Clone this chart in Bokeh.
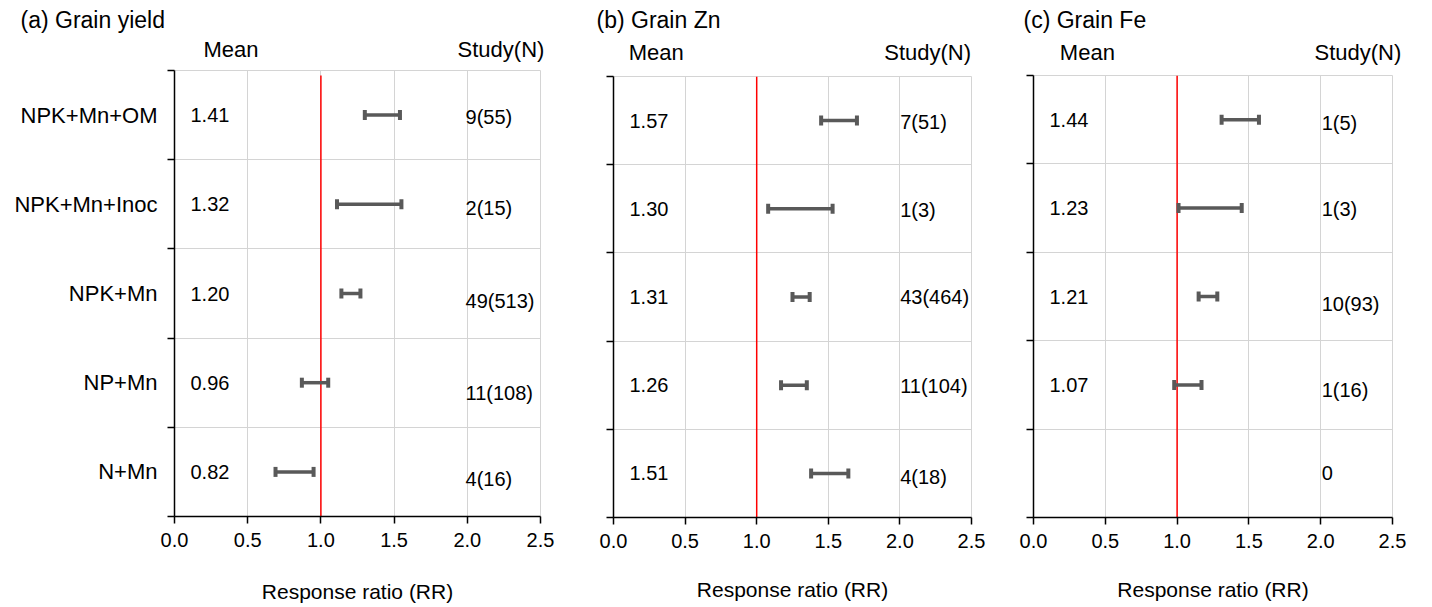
from bokeh.plotting import figure
from bokeh.models import FixedTicker, NumeralTickFormatter, LinearAxis
from bokeh.layouts import row
from bokeh.embed import file_html
from bokeh.resources import INLINE
from bokeh.core.properties import value

FONT = "Liberation Sans"
GRID = "#d4d4d4"
BAR = "#595959"

# ---------------- data (rows listed top to bottom) ----------------
categories = ["NPK+Mn+OM", "NPK+Mn+Inoc", "NPK+Mn", "NP+Mn", "N+Mn"]
x_ticks = [0.0, 0.5, 1.0, 1.5, 2.0, 2.5]

yield_mean = [1.41, 1.32, 1.20, 0.96, 0.82]
yield_lo = [1.30, 1.11, 1.14, 0.87, 0.69]
yield_hi = [1.54, 1.55, 1.27, 1.05, 0.95]
yield_study = ["9(55)", "2(15)", "49(513)", "11(108)", "4(16)"]

zn_mean = [1.57, 1.30, 1.31, 1.26, 1.51]
zn_lo = [1.45, 1.08, 1.25, 1.17, 1.38]
zn_hi = [1.70, 1.53, 1.37, 1.35, 1.64]
zn_study = ["7(51)", "1(3)", "43(464)", "11(104)", "4(18)"]

fe_mean = [1.44, 1.23, 1.21, 1.07, None]
fe_lo = [1.31, 1.01, 1.15, 0.98, None]
fe_hi = [1.57, 1.45, 1.28, 1.17, None]
fe_study = ["1(5)", "1(3)", "10(93)", "1(16)", "0"]

HEIGHT = 606


def panel(title, means, lo, hi, study, study_dy, *, width, border, title_offset,
          title_standoff, hdr_x, hdr_standoff, study_x, xlabel_standoff,
          ref_top, show_cats):
    n = len(means)
    yc = [n - 0.5 - i for i in range(n)]
    ppu = (HEIGHT - border[2] - border[3]) / n
    p = figure(width=width, height=HEIGHT, x_range=(0, 2.5), y_range=(0, n),
               output_backend="svg", toolbar_location=None,
               min_border_left=border[0], min_border_right=border[1],
               min_border_top=border[2], min_border_bottom=border[3])
    if "frame_align" in p.properties():
        p.frame_align = False
    p.outline_line_color = GRID
    p.outline_line_width = 1
    p.background_fill_color = "white"
    p.border_fill_color = "white"

    p.xgrid.ticker = FixedTicker(ticks=x_ticks[1:-1])
    p.ygrid.ticker = FixedTicker(ticks=list(range(1, n)))
    p.grid.grid_line_color = GRID
    p.grid.grid_line_width = 1

    # x axis (below)
    xa = p.below[0]
    xa.ticker = FixedTicker(ticks=x_ticks)
    xa.formatter = NumeralTickFormatter(format="0.0")
    xa.axis_line_color = "black"
    xa.axis_line_width = 1.5
    xa.major_tick_line_color = "black"
    xa.major_tick_line_width = 1.5
    xa.major_tick_out = 7
    xa.major_tick_in = 0
    xa.minor_tick_line_color = None
    xa.major_label_text_font = FONT
    xa.major_label_text_font_size = "20px"
    xa.major_label_text_color = "black"
    xa.major_label_standoff = 9
    xa.axis_label = "Response ratio (RR)"
    xa.axis_label_text_font = FONT
    xa.axis_label_text_font_size = "21px"
    xa.axis_label_text_font_style = "normal"
    xa.axis_label_text_color = "black"
    xa.axis_label_standoff = xlabel_standoff

    # y axis: labels at row centres, ticks at row boundaries
    ya = p.left[0]
    ya.axis_line_color = "black"
    ya.axis_line_width = 1.5
    ya.major_tick_in = 0
    ya.major_tick_out = 0
    ya.minor_tick_in = 0
    ya.minor_tick_out = 7
    ya.minor_tick_line_color = "black"
    ya.minor_tick_line_width = 1.5
    if show_cats:
        ya.ticker = FixedTicker(ticks=yc, minor_ticks=list(range(0, n + 1)))
        ya.major_label_overrides = {float(y): c for y, c in zip(yc, categories)}
        ya.major_label_text_font = FONT
        ya.major_label_text_font_size = "22px"
        ya.major_label_text_color = "black"
        ya.major_label_standoff = 10
    else:
        ya.ticker = FixedTicker(ticks=[], minor_ticks=list(range(0, n + 1)))
        ya.major_label_standoff = 0

    # header axis above the frame ("Mean" / "Study(N)")
    hdr = LinearAxis(ticker=FixedTicker(ticks=list(hdr_x)),
                     major_label_overrides={float(hdr_x[0]): "Mean",
                                            float(hdr_x[1]): "Study(N)"},
                     axis_line_color=None, major_tick_line_color=None,
                     minor_tick_line_color=None, major_tick_in=0, major_tick_out=0,
                     minor_tick_in=0, minor_tick_out=0,
                     major_label_text_font=FONT, major_label_text_font_size="22px",
                     major_label_text_color="black",
                     major_label_standoff=hdr_standoff)
    p.add_layout(hdr, "above")

    # title
    p.title.text = title
    p.title.align = "left"
    p.title.offset = title_offset
    p.title.standoff = title_standoff
    p.title.text_font = FONT
    p.title.text_font_size = "23px"
    p.title.text_font_style = "normal"
    p.title.text_color = "black"

    # reference line at RR = 1
    p.segment(x0=[1.0], x1=[1.0], y0=[0.0], y1=[ref_top],
              line_color="#ff0000", line_width=1.5)

    # error bars
    idx = [i for i in range(n) if means[i] is not None]
    ys = [yc[i] for i in idx]
    los = [lo[i] for i in idx]
    his = [hi[i] for i in idx]
    cap = 5.0 / ppu
    p.segment(x0=los, x1=his, y0=ys, y1=ys, line_color=BAR, line_width=3.5)
    p.segment(x0=los + his, x1=los + his,
              y0=[y - cap for y in ys] * 2, y1=[y + cap for y in ys] * 2,
              line_color=BAR, line_width=4)

    # mean values
    p.text(x=[0.0] * len(idx), y=ys, text=[f"{means[i]:.2f}" for i in idx],
           x_offset=16, text_align="left", text_baseline="middle",
           text_font=value(FONT), text_font_size="20px", text_color="black")

    # study (N)
    p.text(x=[study_x] * n, y=[yc[i] - study_dy[i] / ppu for i in range(n)],
           text=study, text_align="left", text_baseline="middle",
           text_font=value(FONT), text_font_size="20px", text_color="black")
    return p


pa = panel("(a) Grain yield", yield_mean, yield_lo, yield_hi, yield_study,
           [2, 4, 7, 10, 7],
           width=580, border=(174, 40, 70, HEIGHT - 516), title_offset=-154,
           title_standoff=1, hdr_x=(0.386, 2.23), hdr_standoff=9, study_x=1.988,
           xlabel_standoff=30, ref_top=4.944, show_cats=True)
pb = panel("(b) Grain Zn", zn_mean, zn_lo, zn_hi, zn_study,
           [1, 1, 0, 1, 4],
           width=430, border=(33, 39, 75, HEIGHT - 517), title_offset=-17,
           title_standoff=8, hdr_x=(0.298, 2.194), hdr_standoff=12, study_x=2.002,
           xlabel_standoff=27, ref_top=5.0, show_cats=False)
pc = panel("(c) Grain Fe", fe_mean, fe_lo, fe_hi, fe_study,
           [3, 1, 7, 5, 0],
           width=414, border=(23, 32, 75, HEIGHT - 517), title_offset=-10,
           title_standoff=7, hdr_x=(0.375, 2.259), hdr_standoff=11, study_x=2.007,
           xlabel_standoff=27, ref_top=5.0, show_cats=False)

layout = row(pa, pb, pc)
open("out.html", "w").write(file_html(layout, INLINE))
